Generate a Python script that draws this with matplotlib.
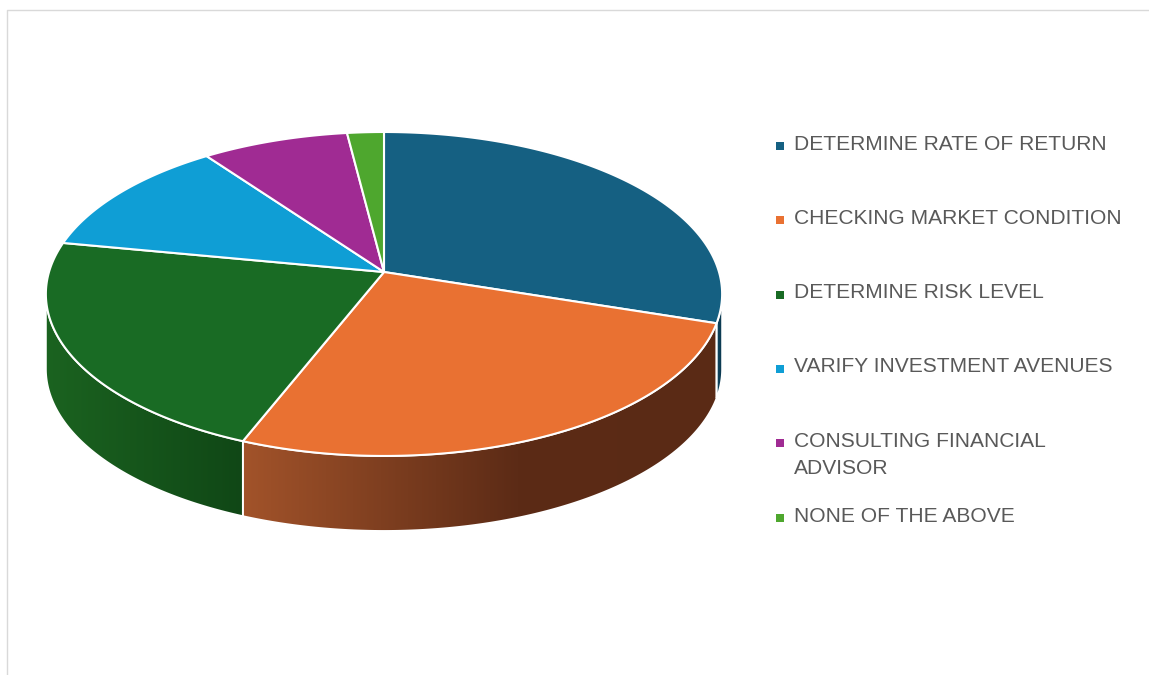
import matplotlib
matplotlib.use("Agg")
import matplotlib.pyplot as plt
import numpy as np
from matplotlib.colors import LinearSegmentedColormap
from matplotlib.patches import Polygon

# Survey answers, share of respondents (%)
labels = [
    "DETERMINE RATE OF RETURN",
    "CHECKING MARKET CONDITION",
    "DETERMINE RISK LEVEL",
    "VARIFY INVESTMENT AVENUES",
    "CONSULTING FINANCIAL\nADVISOR",
    "NONE OF THE ABOVE",
]
values = [30, 26, 22, 12, 8, 2]

top_colors = ["#156082", "#E97132", "#196B24", "#0F9ED5", "#A02B93", "#4EA72E"]
# side wall shading: (position along the wall, colour) stops, left to right
side_stops = [
    [(0.0, "#0f4660"), (1.0, "#0b344a")],
    [(0.0, "#a2532a"), (0.58, "#5c2b16"), (1.0, "#5a2a15")],
    [(0.0, "#1b6320"), (1.0, "#104716")],
    [(0.0, "#0b6f96"), (1.0, "#0b6f96")],
    [(0.0, "#701e67"), (1.0, "#701e67")],
    [(0.0, "#367520"), (1.0, "#367520")],
]

W, H = 1149, 675
CX, CY = 384.0, 272.0      # pie centre on screen (px)
AX_, CY_ = 335.0, 159.0    # horizontal / depth radii before perspective
PERSP = 0.1357             # perspective strength
DEPTH = 75.0               # thickness of the pie (px)


def project(theta_deg):
    """Map angles (clockwise from 12 o'clock) on the unit disc to screen px."""
    t = np.radians(theta_deg)
    u, v = np.sin(t), np.cos(t)
    w = 1.0 + PERSP * v
    return CX + AX_ * u / w, CY - CY_ * v / w


fig = plt.figure(figsize=(W / 100, H / 100), dpi=100)
ax = fig.add_axes([0, 0, 1, 1])
ax.set_axis_off()

# chart frame (only the top and left edges fall inside the image)
ax.plot([6.7, 6.7, W], [H, 9.7, 9.7], color="#d9d9d9", lw=1.0, zorder=1)

fracs = np.asarray(values, dtype=float) / sum(values)
bounds = np.concatenate([[0.0], np.cumsum(fracs) * 360.0])

# the front part of the rim is visible between the two silhouette points
vis_lo = np.degrees(np.arccos(-PERSP))
vis_hi = 360.0 - vis_lo

# --- side walls ---
for i in range(len(values)):
    a0, a1 = max(bounds[i], vis_lo), min(bounds[i + 1], vis_hi)
    if a1 <= a0:
        continue
    th = np.linspace(a0, a1, max(int((a1 - a0) * 2), 4))
    xt, yt = project(th)
    xy = np.vstack([np.column_stack([xt, yt]),
                    np.column_stack([xt[::-1], yt[::-1] + DEPTH])])
    clip = Polygon(xy, closed=True, facecolor="none", edgecolor="none")
    ax.add_patch(clip)
    x0, x1 = xy[:, 0].min(), xy[:, 0].max()
    y0, y1 = xy[:, 1].min(), xy[:, 1].max()
    cmap = LinearSegmentedColormap.from_list(f"side{i}", side_stops[i])
    im = ax.imshow(np.linspace(0, 1, 256).reshape(1, -1), cmap=cmap,
                   extent=(x0, x1, y1, y0), aspect="auto",
                   interpolation="bilinear", zorder=2)
    im.set_clip_path(clip)
    ax.add_patch(Polygon(xy, closed=True, facecolor="none",
                         edgecolor="white", lw=1.3, zorder=3))

# --- top surface ---
for i in range(len(values)):
    th = np.linspace(bounds[i], bounds[i + 1],
                     max(int((bounds[i + 1] - bounds[i]) * 2), 4))
    xt, yt = project(th)
    xy = np.vstack([[CX, CY], np.column_stack([xt, yt])])
    ax.add_patch(Polygon(xy, closed=True, facecolor=top_colors[i],
                         edgecolor="white", lw=1.5, zorder=4,
                         joinstyle="round"))

# --- legend ---
legend_rows = [144, 218, 293, 367, 441, 516]
for lab, col, y in zip(labels, top_colors, legend_rows):
    n_lines = lab.count("\n") + 1
    ax.plot(779.5, y + 2, marker="s", ms=5.2, color=col, mew=0, zorder=5)
    # multi-line labels: keep the first line level with the marker
    ax.text(794, y + (n_lines - 1) * 14, lab, fontsize=15.1,
            family="Liberation Sans", color="#595959", va="center",
            ha="left", linespacing=1.55, zorder=5)

ax.set_xlim(0, W)
ax.set_ylim(H, 0)

fig.savefig("out.png", dpi=100, facecolor="white")
